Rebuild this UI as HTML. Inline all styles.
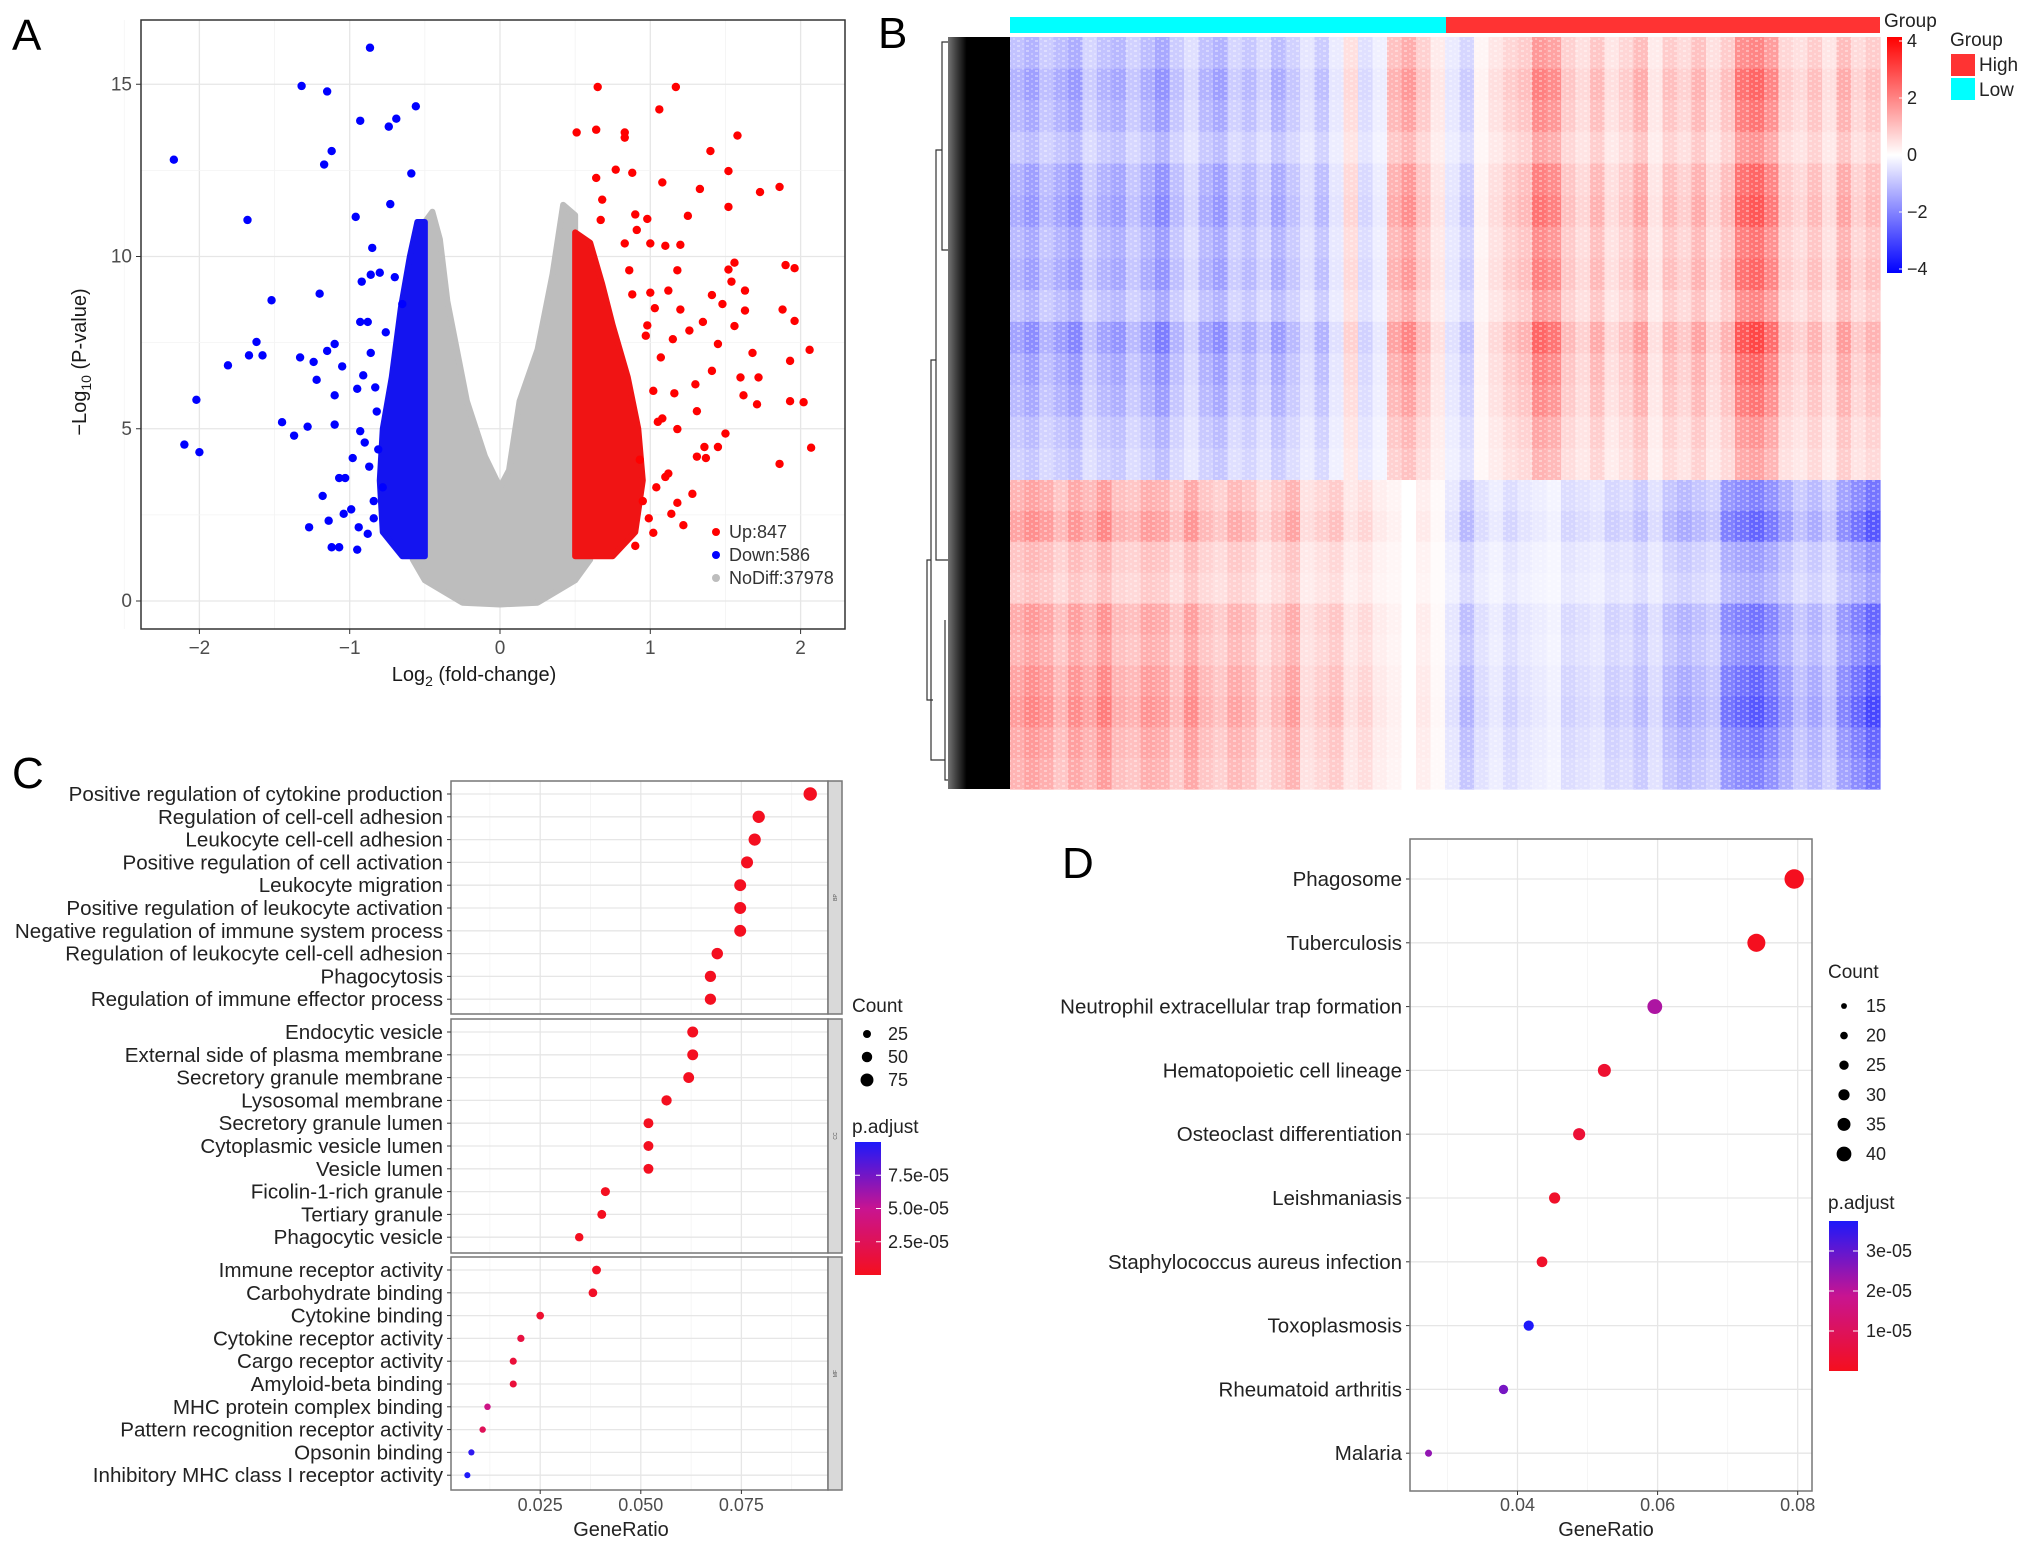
<!DOCTYPE html>
<html><head><meta charset="utf-8">
<style>
html,body{margin:0;padding:0;background:#fff;}
svg{display:block;font-family:"Liberation Sans",Arial,sans-serif;}
</style></head>
<body>
<svg id="fig" width="2032" height="1549" viewBox="0 0 2032 1549" xmlns="http://www.w3.org/2000/svg">
<rect x="0" y="0" width="2032" height="1549" fill="#fff"/>
<g id="panelA"></g>
<g id="panelB"></g>
<g id="panelC"></g>
<g id="panelD"></g>
</svg>
<script>
// ---------- Panel A data ----------
const upX=[0.65,1.17,1.06,0.51,0.64,0.83,0.83,1.58,1.4,0.64,0.77,0.88,1.08,1.33,1.52,1.73,1.86,1.52,0.68,0.67,0.9,0.98,1.25,0.91,1.1,1.2,0.83,1.0,1.56,1.9,1.96,1.52,1.54,1.18,1.0,1.12,1.41,1.63,1.48,1.63,1.88,1.96,1.2,1.03,1.68,1.45,2.06,1.93,1.35,1.26,1.6,1.72,1.62,1.71,1.93,2.02,1.5,1.36,1.31,1.37,1.86,2.07,1.28,1.18,1.14,1.02,1.31,1.45,1.18,1.16,1.07,1.41,1.56,1.3,1.1,1.22,0.95,1.05,1.15,0.98,0.88,0.97,1.02,1.08,0.93,0.86,1.12,0.99,0.9,1.04];
const upY=[14.92,14.92,14.27,13.6,13.68,13.6,13.45,13.51,13.06,12.28,12.52,12.43,12.15,11.96,12.48,11.87,12.02,11.44,11.65,11.06,11.22,11.09,11.18,10.77,10.31,10.34,10.38,10.38,9.82,9.75,9.66,9.62,9.27,9.6,8.95,9.01,8.88,9.01,8.62,8.43,8.46,8.13,8.46,8.5,7.2,7.46,7.29,6.97,8.1,7.85,6.49,6.49,5.97,5.71,5.8,5.77,4.86,4.47,4.19,4.15,3.98,4.45,3.11,2.85,2.53,1.98,5.51,4.47,4.99,6.03,7.07,6.68,7.98,6.29,3.6,2.2,2.9,5.2,7.6,8.0,8.9,7.7,6.1,5.3,4.1,9.6,3.7,2.4,1.6,3.3];
const downX=[-0.865,-1.32,-1.15,-0.56,-0.93,-0.69,-0.74,-2.17,-1.12,-1.17,-0.59,-1.68,-0.96,-0.73,-0.85,-1.52,-1.2,-1.62,-1.67,-1.58,-1.81,-2.02,-2.1,-2.0,-1.45,-1.37,-1.28,-1.33,-1.24,-1.22,-1.1,-1.15,-1.05,-1.1,-1.1,-1.18,-1.27,-1.14,-1.12,-1.07,-1.03,-1.07,-0.98,-0.93,-0.95,-0.91,-0.93,-0.92,-0.86,-0.99,-0.94,-1.04,-0.95,-0.88,-0.8,-0.7,-0.65,-0.88,-0.82,-0.78,-0.9,-0.84,-0.86,-0.83,-0.87,-0.84,-0.81,-0.76];
const downY=[16.06,14.95,14.79,14.36,13.94,14.0,13.77,12.81,13.06,12.67,12.41,11.06,11.15,11.52,10.25,8.73,8.92,7.52,7.13,7.13,6.84,5.84,4.54,4.32,5.19,4.8,5.06,7.07,6.94,6.42,7.46,7.26,6.81,5.97,5.12,3.05,2.14,2.33,1.56,1.56,3.57,3.57,4.15,4.93,6.16,6.55,8.1,9.27,9.47,2.66,2.14,2.53,1.49,1.95,9.53,9.4,8.62,8.1,5.5,3.3,4.6,2.4,7.2,6.2,3.9,2.9,4.4,7.8];
// dense cores (data coords)
const upCoreX=[0.5,0.5,0.6,0.68,0.75,0.85,0.92,0.95,0.9,0.75];
const upCoreY=[1.3,10.7,10.4,9.2,8.0,6.5,5.0,3.5,2.0,1.3];
const downCoreX=[-0.5,-0.5,-0.55,-0.6,-0.66,-0.72,-0.78,-0.8,-0.78,-0.65];
const downCoreY=[1.3,11.0,11.0,10.0,8.5,6.5,5.0,3.5,2.0,1.3];
const greyX=[-0.25,-0.5,-0.58,-0.5,-0.5,-0.45,-0.4,-0.35,-0.22,-0.1,0,0.06,0.13,0.25,0.35,0.42,0.5,0.5,0.6,0.5,0.25,0];
const greyY=[-0.05,0.6,1.2,1.5,11.0,11.3,10.5,8.7,5.8,4.2,3.3,3.8,5.8,7.3,9.5,11.5,11.2,1.5,1.2,0.6,-0.05,-0.1];
const legendLabels=["Up:847","Down:586","NoDiff:37978"];
const aXTicks=[-2,-1,0,1,2];
const aYTicks=[0,5,10,15];

// ---------- Panel B data ----------
const colTop=[-1.2,-1.5,-1.0,-1.3,-1.6,-0.8,-1.2,-1.4,-0.9,-1.3,-1.7,-1.0,-0.6,-1.2,-1.5,-0.8,-1.1,-0.7,-1.3,-0.9,-0.5,-1.0,-0.4,0.6,-0.6,-0.3,1.2,1.6,0.9,0.4,
-0.4,-0.8,0.2,0.5,0.8,1.0,2.0,1.8,0.9,0.6,1.1,0.5,0.8,1.3,0.4,1.0,0.7,1.2,0.6,1.0,2.2,2.4,1.9,0.8,0.6,1.0,0.5,1.3,0.7,1.0];
const colBot=[1.3,1.6,1.4,1.0,1.5,1.2,1.7,1.1,1.0,1.4,1.3,0.9,1.5,1.0,0.8,1.2,1.0,0.6,0.9,1.3,0.5,0.7,0.9,0.4,0.6,0.3,0.2,0.0,0.3,0.1,
-0.4,-1.0,-0.5,-0.3,-0.6,-0.4,-0.3,-0.2,-0.6,-0.5,-0.4,-0.7,-0.6,-0.9,-0.5,-1.0,-1.2,-1.0,-0.8,-1.8,-2.0,-2.2,-1.9,-1.4,-0.9,-1.2,-0.8,-1.6,-2.0,-2.4];
const rowTop=[0.8,1.0,0.9,0.7,1.0,1.1,0.9,1.0,0.8,1.2,1.0,0.9,0.7,0.6];
const rowBot=[0.9,1.1,0.7,0.6,1.0,0.9,1.1,1.2,1.0,0.9];
const scaleTicks=[4,2,0,-2,-4];

// ---------- Panel C data ----------
const cTerms=["Positive regulation of cytokine production","Regulation of cell-cell adhesion","Leukocyte cell-cell adhesion","Positive regulation of cell activation","Leukocyte migration","Positive regulation of leukocyte activation","Negative regulation of immune system process","Regulation of leukocyte cell-cell adhesion","Phagocytosis","Regulation of immune effector process",
"Endocytic vesicle","External side of plasma membrane","Secretory granule membrane","Lysosomal membrane","Secretory granule lumen","Cytoplasmic vesicle lumen","Vesicle lumen","Ficolin-1-rich granule","Tertiary granule","Phagocytic vesicle",
"Immune receptor activity","Carbohydrate binding","Cytokine binding","Cytokine receptor activity","Cargo receptor activity","Amyloid-beta binding","MHC protein complex binding","Pattern recognition receptor activity","Opsonin binding","Inhibitory MHC class I receptor activity"];
const cRatio=[0.0921,0.0793,0.0783,0.0764,0.0747,0.0747,0.0747,0.0690,0.0673,0.0673,0.0629,0.0629,0.0619,0.0564,0.0519,0.0519,0.0519,0.0412,0.0403,0.0347,0.0390,0.0381,0.0250,0.0202,0.0183,0.0183,0.0119,0.0107,0.0079,0.0069];
const cCount=[80,69,68,66,65,65,65,60,58,58,55,55,54,49,45,45,45,36,35,30,34,33,22,18,16,16,10,9,7,6];
const cPadj=[1e-6,1e-6,1e-6,1e-6,1e-6,1e-6,1e-6,1e-6,1e-6,1e-6,1e-6,1e-6,1e-6,1e-6,1e-6,1e-6,1e-6,1e-6,1e-6,1e-6,2e-6,4e-6,8e-6,1.5e-5,1.2e-5,1.2e-5,4.5e-5,2.5e-5,9.5e-5,1e-4];
const cXTicks=[0.025,0.05,0.075];
const cCountLegend=[25,50,75];
const cPadjTicks=[7.5e-5,5.0e-5,2.5e-5];
const cPadjLabels=["7.5e-05","5.0e-05","2.5e-05"];

// ---------- Panel D data ----------
const dTerms=["Phagosome","Tuberculosis","Neutrophil extracellular trap formation","Hematopoietic cell lineage","Osteoclast differentiation","Leishmaniasis","Staphylococcus aureus infection","Toxoplasmosis","Rheumatoid arthritis","Malaria"];
const dRatio=[0.0795,0.0741,0.0596,0.0524,0.0488,0.0453,0.0435,0.0416,0.0380,0.0273];
const dCount=[41,38,31,27,25,23,22,21,19,14];
const dPadj=[1e-7,2e-7,2.2e-5,3e-6,4e-6,2e-6,2e-6,3.8e-5,2.8e-5,2.5e-5];
const dXTicks=[0.04,0.06,0.08];
const dCountLegend=[15,20,25,30,35,40];
const dPadjTicks=[3e-5,2e-5,1e-5];
const dPadjLabels=["3e-05","2e-05","1e-05"];

const NS="http://www.w3.org/2000/svg";
function mk(parent,tag,attrs,text){const e=document.createElementNS(NS,tag);for(const k in attrs)e.setAttribute(k,attrs[k]);if(text!==undefined)e.textContent=text;parent.appendChild(e);return e;}
function lerpColor(t){ // 0 -> red, 0.5 -> magenta, 1 -> blue
  t=Math.max(0,Math.min(1,t));
  const A=[245,15,30],M=[200,20,145],Bc=[30,25,250];
  let a,b,u; if(t<0.5){a=A;b=M;u=t/0.5;}else{a=M;b=Bc;u=(t-0.5)/0.5;}
  const c=a.map((v,i)=>Math.round(v+(b[i]-v)*u));
  return `rgb(${c[0]},${c[1]},${c[2]})`;
}

// ================= Panel A =================
(function(){
  const g=document.getElementById('panelA');
  const L=141,R=845,T=20,B=629;
  const xs=v=>500+v*150.3, ys=v=>601-v*34.45;
  let t=mk(g,'text',{x:12,y:50,'font-size':44,fill:'#000'},'A');
  
  
  for(let v=-2.5;v<=2.01;v+=0.5){const major=Math.abs(v-Math.round(v))<1e-6;
    const l=mk(g,'line',{x1:xs(v),x2:xs(v),y1:T,y2:B,stroke:major?'#e6e6e6':'#f3f3f3','stroke-width':major?1.3:0.8});
    }
  for(let v=0;v<=17.5;v+=2.5){const major=v%5===0;
    const l=mk(g,'line',{x1:L,x2:R,y1:ys(v),y2:ys(v),stroke:major?'#e6e6e6':'#f3f3f3','stroke-width':major?1.3:0.8});
    }
  let pts=greyX.map((x,i)=>xs(x)+','+ys(greyY[i])).join(' ');
  let p=mk(g,'polygon',{points:pts,fill:'#bdbdbd',stroke:'#bdbdbd','stroke-width':6,'stroke-linejoin':'round'});
  
  pts=downCoreX.map((x,i)=>xs(x)+','+ys(downCoreY[i])).join(' ');
  p=mk(g,'polygon',{points:pts,fill:'#1414f0',stroke:'#1414f0','stroke-width':6,'stroke-linejoin':'round'});
  
  pts=upCoreX.map((x,i)=>xs(x)+','+ys(upCoreY[i])).join(' ');
  p=mk(g,'polygon',{points:pts,fill:'#f01414',stroke:'#f01414','stroke-width':6,'stroke-linejoin':'round'});
  
  downX.forEach((x,i)=>{const c=mk(g,'circle',{cx:xs(x),cy:ys(downY[i]),r:4.2,fill:'#0000ff'});
    });
  upX.forEach((x,i)=>{const c=mk(g,'circle',{cx:xs(x),cy:ys(upY[i]),r:4.2,fill:'#ff0000'});
    });
  const box=mk(g,'rect',{x:L,y:T,width:R-L,height:B-T,fill:'none',stroke:'#333','stroke-width':1.5});
  
  aXTicks.forEach(v=>{mk(g,'line',{x1:xs(v),x2:xs(v),y1:B,y2:B+5,stroke:'#333'});
    const tx=mk(g,'text',{x:xs(v),y:B+25,'font-size':19,fill:'#4d4d4d','text-anchor':'middle'},v<0?'\u2212'+(-v):String(v));
    });
  aYTicks.forEach(v=>{mk(g,'line',{x1:L-5,x2:L,y1:ys(v),y2:ys(v),stroke:'#333'});
    const tx=mk(g,'text',{x:L-9,y:ys(v)+6,'font-size':19,fill:'#4d4d4d','text-anchor':'end'},String(v));
    });
  t=mk(g,'text',{x:474,y:681,'font-size':20,fill:'#1a1a1a','text-anchor':'middle'});
  
  t.innerHTML='Log<tspan font-size="14" dy="5">2</tspan><tspan dy="-5"> (fold-change)</tspan>';
  t=mk(g,'text',{x:0,y:0,'font-size':20,fill:'#1a1a1a','text-anchor':'middle',transform:'translate(86,362) rotate(-90)'});
  
  t.innerHTML='\u2212Log<tspan font-size="14" dy="5">10</tspan><tspan dy="-5"> (P-value)</tspan>';
  const lc=['#ff0000','#0000ff','#bdbdbd'];
  legendLabels.forEach((s,i)=>{const y=532+i*23;
    const c=mk(g,'circle',{cx:716,cy:y,r:4,fill:lc[i]});
    
    const tx=mk(g,'text',{x:729,y:y+6,'font-size':18,fill:'#333'},s);
    });
})();

// ================= Panel B =================
(function(){
  const g=document.getElementById('panelB');
  const L=1010,R=1880,T=37,B=789,mid=480;
  let t=mk(g,'text',{x:878,y:48,'font-size':44,fill:'#000'},'B');
  
  function heat(v){const f=Math.min(1,Math.abs(v)/4);
    const w=Math.round(255*(1-f)); return v>=0?`rgb(255,${w},${w})`:`rgb(${w},${w},255)`;}
  const cw=(R-L)/colTop.length;
  const rhT=(mid-T)/rowTop.length, rhB=(B-mid)/rowBot.length;
  rowTop.forEach((ra,ri)=>{colTop.forEach((cv,ci)=>{
    const r=mk(g,'rect',{x:L+ci*cw,y:T+ri*rhT,width:cw+0.6,height:rhT+0.6,fill:heat(cv*ra)});
    });});
  rowBot.forEach((ra,ri)=>{colBot.forEach((cv,ci)=>{
    const r=mk(g,'rect',{x:L+ci*cw,y:mid+ri*rhB,width:cw+0.6,height:rhB+0.6,fill:heat(cv*ra)});
    });});
  const defs=mk(g,'defs',{});
  const pat=mk(defs,'pattern',{id:'tex',width:9,height:5,patternUnits:'userSpaceOnUse'});
  mk(pat,'rect',{x:0,y:0,width:3,height:2,fill:'#fff',opacity:0.35});
  mk(pat,'rect',{x:5,y:3,width:2,height:2,fill:'#fff',opacity:0.25});
  let o=mk(g,'rect',{x:L,y:T,width:R-L,height:B-T,fill:'url(#tex)'});
  
  let gb=mk(g,'rect',{x:L,y:17,width:1446-L,height:16,fill:'#00ffff'});
  
  gb=mk(g,'rect',{x:1446,y:17,width:R-1446,height:16,fill:'#ff3333'});
  
  const grad=mk(defs,'linearGradient',{id:'dg',x1:0,x2:1,y1:0,y2:0});
  mk(grad,'stop',{offset:0,'stop-color':'#000','stop-opacity':0.55});
  mk(grad,'stop',{offset:0.3,'stop-color':'#000','stop-opacity':1});
  let d=mk(g,'rect',{x:948,y:T,width:L-948,height:B-T,fill:'url(#dg)'});
  
  d=mk(g,'path',{d:`M948 ${T+5} H942 V250 H948 M942 150 H936 V560 H948 M936 360 H931 V760 H945 M931 560 H927 V700 H933 M945 620 V780 H948`,fill:'none',stroke:'#333','stroke-width':1.2});
  
  const cg=mk(defs,'linearGradient',{id:'cs',x1:0,x2:0,y1:0,y2:1});
  mk(cg,'stop',{offset:0,'stop-color':'#ff0000'});mk(cg,'stop',{offset:0.5,'stop-color':'#ffffff'});mk(cg,'stop',{offset:1,'stop-color':'#0000ff'});
  let cs=mk(g,'rect',{x:1887,y:37,width:15,height:236,fill:'url(#cs)'});
  
  const sy=v=>155-v*28.5;
  scaleTicks.forEach(v=>{mk(g,'line',{x1:1899,x2:1902,y1:sy(v),y2:sy(v),stroke:'#fff'});
    const tx=mk(g,'text',{x:1907,y:sy(v)+6,'font-size':18,fill:'#222'},v<0?'\u2212'+(-v):String(v));
    });
  t=mk(g,'text',{x:1884,y:27,'font-size':19,fill:'#222'},'Group');
  
  t=mk(g,'text',{x:1950,y:46,'font-size':19,fill:'#222'},'Group');
  
  let s=mk(g,'rect',{x:1951,y:54,width:24,height:22,fill:'#ff3333'});
  
  s=mk(g,'rect',{x:1951,y:78,width:24,height:22,fill:'#00ffff'});
  
  t=mk(g,'text',{x:1979,y:71,'font-size':19,fill:'#222'},'High');
  
  t=mk(g,'text',{x:1979,y:96,'font-size':19,fill:'#222'},'Low');
  
})();

// ================= Panel C =================
(function(){
  const g=document.getElementById('panelC');
  const L=451,R=828,strips=[[781,1014],[1019,1253],[1257,1490]];
  const xs=v=>439.6+v*4024;
  const ry=i=>{const p=Math.floor(i/10),k=i%10;return strips[p][0]+13+k*22.8;};
  const rr=c=>3+(c-5)/(80-5)*3.7;
  const pc=p=>lerpColor(p/1.0e-4);
  let t=mk(g,'text',{x:12,y:788,'font-size':44,fill:'#000'},'C');
  
  strips.forEach((s,pi)=>{
    [0.0125,0.0375,0.0625,0.0875].forEach(v=>mk(g,'line',{x1:xs(v),x2:xs(v),y1:s[0],y2:s[1],stroke:'#f3f3f3','stroke-width':0.8}));
    cXTicks.forEach(v=>{const l=mk(g,'line',{x1:xs(v),x2:xs(v),y1:s[0],y2:s[1],stroke:'#e6e6e6','stroke-width':1.3});
      });
    for(let k=0;k<10;k++){const y=ry(pi*10+k);mk(g,'line',{x1:L,x2:R,y1:y,y2:y,stroke:'#e6e6e6','stroke-width':1.3});}
    const b=mk(g,'rect',{x:L,y:s[0],width:R-L,height:s[1]-s[0],fill:'none',stroke:'#777','stroke-width':1.5});
    
    const st=mk(g,'rect',{x:R,y:s[0],width:14,height:s[1]-s[0],fill:'#d9d9d9',stroke:'#777','stroke-width':1.5});
    
    const lab=mk(g,'text',{x:0,y:0,'font-size':5,fill:'#555','text-anchor':'middle',transform:`translate(${R+9},${(s[0]+s[1])/2}) rotate(-90)`},['BP','CC','MF'][pi]);
    
  });
  cTerms.forEach((s,i)=>{const y=ry(i);
    mk(g,'line',{x1:L-4,x2:L,y1:y,y2:y,stroke:'#333'});
    const tx=mk(g,'text',{x:443,y:y+7,'font-size':20.6,fill:'#222','text-anchor':'end'},s);
    
    const c=mk(g,'circle',{cx:xs(cRatio[i]),cy:y,r:rr(cCount[i]),fill:pc(cPadj[i])});
    });
  cXTicks.forEach(v=>{mk(g,'line',{x1:xs(v),x2:xs(v),y1:1490,y2:1494,stroke:'#333'});
    const tx=mk(g,'text',{x:xs(v),y:1511,'font-size':18,fill:'#4d4d4d','text-anchor':'middle'},v.toFixed(3));
    });
  t=mk(g,'text',{x:621,y:1536,'font-size':20,fill:'#222','text-anchor':'middle'},'GeneRatio');
  
  t=mk(g,'text',{x:852,y:1012,'font-size':19,fill:'#222'},'Count');
  
  cCountLegend.forEach((c,i)=>{const y=1034+i*23;
    const d=mk(g,'circle',{cx:867,cy:y,r:rr(c),fill:'#000'});
    
    const tx=mk(g,'text',{x:888,y:y+6,'font-size':18,fill:'#222'},String(c));
    });
  t=mk(g,'text',{x:852,y:1133,'font-size':19,fill:'#222'},'p.adjust');
  
  const defs=mk(g,'defs',{});const cg=mk(defs,'linearGradient',{id:'cgC',x1:0,x2:0,y1:0,y2:1});
  for(let k=0;k<=10;k++)mk(cg,'stop',{offset:k/10,'stop-color':lerpColor(1-k/10)});
  const cb=mk(g,'rect',{x:855,y:1142,width:26,height:133,fill:'url(#cgC)'});
  
  const py=v=>1275-v/1.0e-4*133;
  cPadjTicks.forEach((v,i)=>{mk(g,'line',{x1:855,x2:860,y1:py(v),y2:py(v),stroke:'#fff'});mk(g,'line',{x1:876,x2:881,y1:py(v),y2:py(v),stroke:'#fff'});
    const tx=mk(g,'text',{x:888,y:py(v)+6,'font-size':18,fill:'#222'},cPadjLabels[i]);
    });
})();

// ================= Panel D =================
(function(){
  const g=document.getElementById('panelD');
  const L=1410,R=1812,T=839,B=1491;
  const xs=v=>1237.3+v*7005;
  const ry=i=>879+i*63.8;
  const rr=c=>3.3+(c-13)/(41-13)*6.4;
  const pc=p=>lerpColor(p/3.8e-5);
  let t=mk(g,'text',{x:1062,y:878,'font-size':44,fill:'#000'},'D');
  
  [0.03,0.05,0.07].forEach(v=>mk(g,'line',{x1:xs(v),x2:xs(v),y1:T,y2:B,stroke:'#f3f3f3','stroke-width':0.8}));
  dXTicks.forEach(v=>{const l=mk(g,'line',{x1:xs(v),x2:xs(v),y1:T,y2:B,stroke:'#e6e6e6','stroke-width':1.3});
    });
  dTerms.forEach((s,i)=>{const y=ry(i);
    mk(g,'line',{x1:L,x2:R,y1:y,y2:y,stroke:'#e6e6e6','stroke-width':1.3});
    mk(g,'line',{x1:L-4,x2:L,y1:y,y2:y,stroke:'#333'});
    const tx=mk(g,'text',{x:1402,y:y+7,'font-size':20.5,fill:'#222','text-anchor':'end'},s);
    
    const c=mk(g,'circle',{cx:xs(dRatio[i]),cy:y,r:rr(dCount[i]),fill:pc(dPadj[i])});
    });
  const b=mk(g,'rect',{x:L,y:T,width:R-L,height:B-T,fill:'none',stroke:'#777','stroke-width':1.5});
  
  dXTicks.forEach(v=>{mk(g,'line',{x1:xs(v),x2:xs(v),y1:B,y2:B+4,stroke:'#333'});
    const tx=mk(g,'text',{x:xs(v),y:1511,'font-size':18,fill:'#4d4d4d','text-anchor':'middle'},v.toFixed(2));
    });
  t=mk(g,'text',{x:1606,y:1536,'font-size':20,fill:'#222','text-anchor':'middle'},'GeneRatio');
  
  t=mk(g,'text',{x:1828,y:978,'font-size':19,fill:'#222'},'Count');
  
  dCountLegend.forEach((c,i)=>{const y=1006+i*29.6;
    const d=mk(g,'circle',{cx:1844,cy:y,r:rr(c)*0.78,fill:'#000'});
    
    const tx=mk(g,'text',{x:1866,y:y+6,'font-size':18,fill:'#222'},String(c));
    });
  t=mk(g,'text',{x:1828,y:1209,'font-size':19,fill:'#222'},'p.adjust');
  
  const defs=mk(g,'defs',{});const cg=mk(defs,'linearGradient',{id:'cgD',x1:0,x2:0,y1:0,y2:1});
  for(let k=0;k<=10;k++)mk(cg,'stop',{offset:k/10,'stop-color':lerpColor(1-k/10)});
  const cb=mk(g,'rect',{x:1829,y:1221,width:29,height:150,fill:'url(#cgD)'});
  
  const py=v=>1371-v/3.75e-5*150;
  dPadjTicks.forEach((v,i)=>{mk(g,'line',{x1:1829,x2:1834,y1:py(v),y2:py(v),stroke:'#fff'});mk(g,'line',{x1:1853,x2:1858,y1:py(v),y2:py(v),stroke:'#fff'});
    const tx=mk(g,'text',{x:1866,y:py(v)+6,'font-size':18,fill:'#222'},dPadjLabels[i]);
    });
})();
</script>
</body></html>
